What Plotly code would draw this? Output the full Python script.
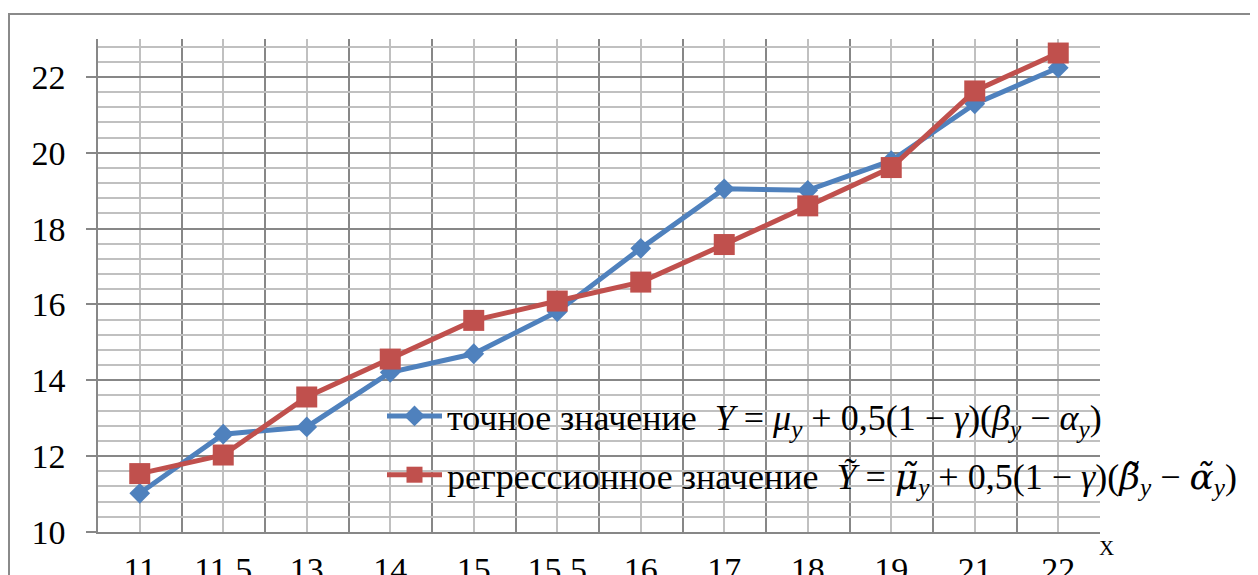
import plotly.graph_objects as go

# ---- data ----
categories = ["11", "11.5", "13", "14", "15", "15.5", "16", "17", "18", "19", "21", "22"]
exact_values = [11.02, 12.58, 12.77, 14.21, 14.70, 15.81, 17.48, 19.05, 19.01, 19.79, 21.29, 22.24]
regr_values = [11.54, 12.03, 13.56, 14.56, 15.58, 16.09, 16.59, 17.58, 18.60, 19.61, 21.63, 22.63]
GR = "<span style=\"font-family:'DejaVu Serif'\">"
series_names = [
    "точное значение\u00a0\u00a0<i>Y</i> = <i>μ</i><sub><i>y</i></sub> + 0,5(1 − <i>γ</i>)(<i>β</i><sub><i>y</i></sub> − <i>α</i><sub><i>y</i></sub>)",
    "регрессионное значение\u00a0\u00a0<i>Ỹ</i> = " + GR + "<i>μ̃</i></span><sub><i>y</i></sub> + 0,5(1 − <i>γ</i>)(" + GR + "<i>β̃</i></span><sub><i>y</i></sub> − " + GR + "<i>α̃</i></span><sub><i>y</i></sub>)",
]
y_ticks = [10, 12, 14, 16, 18, 20, 22]

x_pos = list(range(len(categories)))
boundaries = [i - 0.5 for i in range(len(categories) + 1)]

FONT = "Liberation Serif"
BLUE = "#4F81BD"
RED = "#C0504D"

fig = go.Figure()
fig.add_trace(go.Scatter(
    x=x_pos, y=exact_values, name=series_names[0], mode="lines+markers",
    line=dict(color=BLUE, width=5), marker=dict(symbol="diamond", size=16, color=BLUE),
    legendgroup="a",
))
fig.add_trace(go.Scatter(
    x=x_pos, y=regr_values, name=series_names[1], mode="lines+markers",
    line=dict(color=RED, width=5), marker=dict(symbol="square", size=21, color=RED),
    legendgroup="b",
))

# page body has an 8px margin, so the figure starts at (8, 8) on screen
OFF = 8
W, H = 1258, 575
L, R, T, B = 90, 166, 31, 51
pw, ph = W - L - R, H - T - B
PL, PB = OFF + L, OFF + H - B  # screen position of plot left / bottom

def px_x(p):
    return (p - PL) / pw

def px_y(p):
    return (PB - p) / ph

fig.update_layout(
    width=W, height=H,
    margin=dict(l=L, r=R, t=T, b=B, pad=0, autoexpand=False),
    paper_bgcolor="white", plot_bgcolor="white",
    font=dict(family=FONT, color="black", size=34),
    showlegend=True,
    legend=dict(
        x=px_x(382), y=px_y(386), xanchor="left", yanchor="top",
        bgcolor="rgba(0,0,0,0)", font=dict(family=FONT, size=36, color="black"),
        tracegroupgap=9, itemwidth=55,
    ),
    xaxis=dict(
        range=[-0.5, len(categories) - 0.5], tickmode="array",
        tickvals=x_pos, ticktext=categories, automargin=False,
        showgrid=True, gridcolor="#c0c0c0", gridwidth=1.5,
        minor=dict(tickmode="array", tickvals=boundaries, showgrid=True,
                   gridcolor="#878787", gridwidth=1.5, ticks=""),
        ticks="", showline=True, linecolor="#878787", linewidth=1.5,
        zeroline=False, tickfont=dict(family=FONT, size=34, color="black"),
        ticklabelstandoff=6,
    ),
    yaxis=dict(
        range=[10, 23], tickmode="array", tickvals=y_ticks, automargin=False,
        showgrid=True, gridcolor="#878787", gridwidth=1.5,
        minor=dict(dtick=0.4, tick0=10, showgrid=True, gridcolor="#c0c0c0",
                   gridwidth=1.5, ticks=""),
        ticks="outside", ticklen=10, tickcolor="#878787", tickwidth=1.5,
        showline=True, linecolor="#878787", linewidth=1.5,
        zeroline=False, tickfont=dict(family=FONT, size=34, color="black"),
        ticklabelstandoff=14,
    ),
    shapes=[dict(
        type="rect", xref="paper", yref="paper",
        x0=px_x(9), x1=px_x(1400), y0=px_y(14), y1=px_y(700),
        line=dict(color="#8a8a8a", width=2), fillcolor="rgba(0,0,0,0)", layer="below",
    )],
    annotations=[dict(
        text="X", xref="paper", yref="paper", x=px_x(1106), y=px_y(548),
        xanchor="center", yanchor="middle", showarrow=False,
        font=dict(family=FONT, size=21, color="black"),
    )],
)

fig.write_html("out.html")
